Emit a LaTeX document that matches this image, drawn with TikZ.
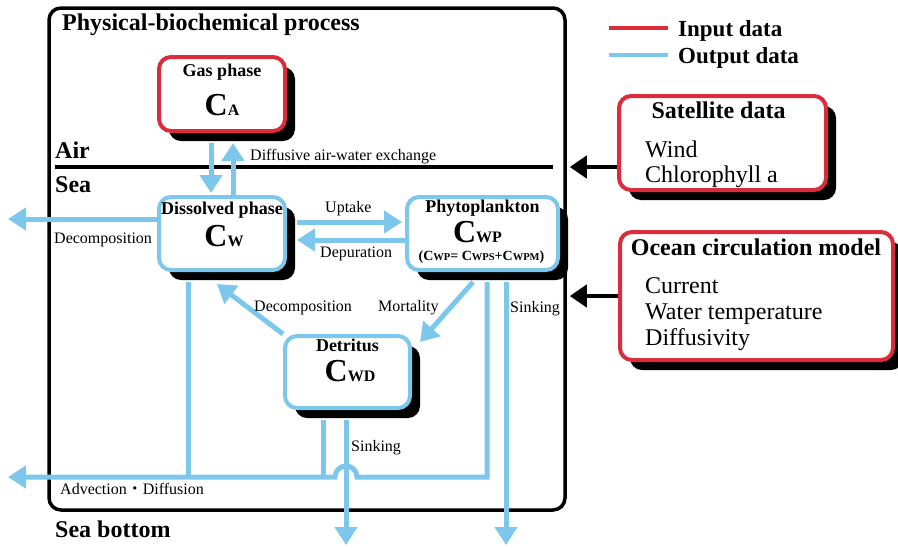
\documentclass[tikz,border=0pt]{standalone}
\usepackage{fontspec}
\setmainfont{Liberation Serif}
\newfontfamily\cjk{Noto Sans CJK JP}
\usetikzlibrary{arrows.meta,shadows}

\definecolor{inred}{RGB}{218,44,58}
\definecolor{outblue}{RGB}{125,198,236}

% concentration symbols
\newcommand\concC[1]{{\fontsize{32}{32}\selectfont C}{\fontsize{16}{16}\selectfont #1}}
\newcommand\concS[1]{{\fontsize{14}{14}\selectfont C}{\fontsize{10.5}{10.5}\selectfont #1}}

\tikzset{
  region/.style={draw, line width=3.5pt, rounded corners=12pt, minimum width=516pt, minimum height=502pt},
  databox/.style={line width=4pt, rounded corners=12pt, fill=white,
    drop shadow={shadow xshift=10pt, shadow yshift=-10pt, fill=black, opacity=1}},
  inbox/.style={databox, draw=inred},
  outbox/.style={databox, draw=outblue},
  flow/.style={draw=outblue, line width=5pt, -{Triangle[length=18pt,width=22pt]}},
  link/.style={draw=outblue, line width=5pt},
  feed/.style={draw=black, line width=4pt, -{Triangle[length=17pt,width=22pt]}, shorten >=3pt},
  plain/.style={font=\fontsize{16}{19}\selectfont, inner sep=0pt, anchor=base west},
  head/.style={font=\fontsize{24}{28}\selectfont\bfseries, inner sep=0pt, anchor=base west},
  legend/.style={font=\fontsize{23}{27}\selectfont\bfseries, inner sep=0pt, anchor=base west},
  item/.style={font=\fontsize{24}{28}\selectfont, inner sep=0pt, anchor=base west},
  boxtitle/.style={font=\fontsize{18}{21}\selectfont\bfseries, inner sep=0pt, anchor=base},
  boxsym/.style={font=\bfseries, inner sep=0pt, anchor=base}
}

\begin{document}
\begin{tikzpicture}[x=1pt, y=-1pt]
    \useasboundingbox (0,0) rectangle (898,547);

    % Process region
    \node[region] (frame) at (307,259) {};
    \node[head] (title) at (62,30) {Physical-biochemical process};
    \draw[line width=3.5pt] (55,167) -- (553,167);
    \node[head] (air) at (55,158) {Air};
    \node[head] (sea) at (55,192) {Sea};
    \node[head] (bottom) at (55,537) {Sea bottom};

    % Legend
    \node[legend] (inlab) at (678,36) {Input data};
    \node[legend] (outlab) at (678,63) {Output data};
    \draw[inred, line width=3.5pt] ([xshift=-10pt,yshift=8pt]inlab.base west) -- ++(-59,0);
    \draw[outblue, line width=3.5pt] ([xshift=-10pt,yshift=8pt]outlab.base west) -- ++(-59,0);

    % Compartments
    \node[inbox] (gas) at (222,94) [minimum width=126pt, minimum height=74pt] {};
    \node[boxtitle] (gasT) at ([yshift=-21pt]gas.north) {Gas phase};
    \node[boxsym] (gasC) at ([yshift=-60pt]gas.north) {\concC{A}};

    \node[outbox] (dis) at (222,233.5) [minimum width=126pt, minimum height=73pt] {};
    \node[boxtitle] (disT) at ([yshift=-19pt]dis.north) {Dissolved phase};
    \node[boxsym] (disC) at ([xshift=2pt,yshift=-51pt]dis.north) {\concC{W}};

    \node[outbox] (phy) at (482.5,233.5) [minimum width=151pt, minimum height=73pt] {};
    \node[boxtitle] (phyT) at ([yshift=-17pt]phy.north) {Phytoplankton};
    \node[boxsym] (phyC) at ([xshift=-5pt,yshift=-47pt]phy.north) {\concC{WP}};
    \node[boxsym] (phyF) at ([xshift=-1pt,yshift=-65pt]phy.north)
        {{\fontsize{14}{14}\selectfont(}\concS{WP}{\fontsize{14}{14}\selectfont= }\concS{WPS}{\fontsize{14}{14}\selectfont+}\concS{WPM}{\fontsize{14}{14}\selectfont)}};

    \node[outbox] (det) at (347.5,372) [minimum width=125pt, minimum height=72pt] {};
    \node[boxtitle] (detT) at ([yshift=-17pt]det.north) {Detritus};
    \node[boxsym] (detC) at ([xshift=2.5pt,yshift=-47pt]det.north) {\concC{WD}};

    % Forcing data
    \node[inbox] (sat) at (722.5,143) [minimum width=207pt, minimum height=94pt] {};
    \node[head, anchor=base] (satT) at ([xshift=-4pt,yshift=-24pt]sat.north) {Satellite data};
    \node[item] (wind) at (645,157) {Wind};
    \node[item] (chl) at (645,182) {Chlorophyll a};

    \node[inbox] (ocean) at (756.5,296) [minimum width=273pt, minimum height=128pt] {};
    \node[head, anchor=base] (oceanT) at (756,255) {Ocean circulation model};
    \node[item] (cur) at (645,293) {Current};
    \node[item] (temp) at (645,319) {Water temperature};
    \node[item] (diff) at (645,345) {Diffusivity};

    % Free ends
    \coordinate (outW) at (8,219);
    \coordinate (advW) at (8,477);
    \coordinate (hopE) at (357,477);
    \coordinate (sinkP) at (506,545);
    \coordinate (sinkD) at (346,545);
    \coordinate (disdrop) at ([xshift=-34pt,yshift=-10pt]dis.south);
    \coordinate (detdrop) at ([xshift=-24.5pt,yshift=-10pt]det.south);
    \coordinate (satout) at ([yshift=-24pt]sat.west);

    % Fluxes
    \draw[flow, shorten >=2pt] ([xshift=-11pt,yshift=-10pt]gas.south) -- ([xshift=-11pt]dis.north);
    \draw[flow] ([xshift=11pt]dis.north) -- ([xshift=11pt,yshift=-10pt]gas.south);
    \node[plain] (exch) at (250,160) {Diffusive air-water exchange};

    \draw[flow] ([yshift=14.5pt]dis.west) -- (outW);
    \node[plain] (decoW) at (54,243) {Decomposition};

    \draw[flow, shorten >=3pt] ([xshift=10pt,yshift=11.5pt]dis.east) -- ([yshift=11.5pt]phy.west);
    \node[plain] (upt) at (325,212) {Uptake};
    \draw[flow] ([yshift=-6.5pt]phy.west) -- ([xshift=10pt,yshift=-6.5pt]dis.east);
    \node[plain] (dep) at (320,257) {Depuration};

    \draw[flow] ([xshift=-9.5pt,yshift=-10pt]phy.south) -- ([xshift=8pt,yshift=-8pt]det.north east);
    \node[plain] (mort) at (378,311) {Mortality};
    \draw[flow] (det.north west) -- ([xshift=-5pt,yshift=-12pt]dis.south);
    \node[plain] (decoD) at (254,311) {Decomposition};

    \draw[flow] ([xshift=23.5pt,yshift=-10pt]phy.south) -- (sinkP);
    \node[plain] (sinkPl) at (510,312) {Sinking};
    \draw[flow] ([xshift=4.5pt,yshift=-10pt]phy.south) |- (hopE)
        arc[start angle=0, end angle=180, radius=11pt] -- (advW);
    \draw[link] (disdrop) -- (disdrop |- advW);
    \draw[link] (detdrop) -- (detdrop |- advW);
    \draw[flow] ([xshift=-1.5pt,yshift=-10pt]det.south) -- (sinkD);
    \node[plain] (sinkDl) at (351,451) {Sinking};
    \node[plain] (adv) at (60,494) {Advection{\cjk ・}Diffusion};

    % Input arrows
    \draw[feed] (satout) -- (satout -| frame.east);
    \draw[feed] (ocean.west) -- (ocean.west -| frame.east);
\end{tikzpicture}
\end{document}
